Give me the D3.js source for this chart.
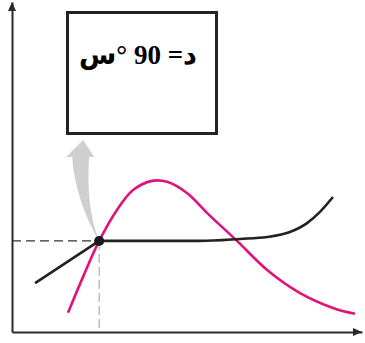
<!DOCTYPE html>
<html>
<head>
<meta charset="utf-8">
<script src="https://cdn.jsdelivr.net/npm/d3@7"></script>
<style>
  html, body { margin: 0; padding: 0; background: #fff; }
  svg { display: block; }
</style>
</head>
<body>
<svg id="chart" width="365" height="343"></svg>
<script>
// Black curve (straight rise, plateau, then upturn)
const blackX = [6.6, 24.9, 39.4, 53.7, 65.1, 72.9, 79.4, 84.3, 88.0, 91.7];
const blackY = [14.8, 27.6, 27.6, 27.6, 28.2, 28.8, 30.3, 33.0, 36.4, 40.9];

// Pink curve (rise to a peak, then decline)
const pinkX = [16.0, 20.3, 24.9, 30.0, 34.6, 40.0, 44.3, 50.0, 55.7, 64.3, 72.9, 82.3, 91.7, 98.0];
const pinkY = [5.8, 16.7, 27.6, 37.0, 43.0, 45.8, 45.5, 42.1, 36.1, 27.6, 18.8, 11.8, 7.3, 5.5];

// Marked crossing point
const crossX = 24.9;
const crossY = 27.6;

// Label shown in the box, split so Arabic letters and digits can use different fonts
const boxLabelParts = [
  { t: "د", arabic: true },
  { t: "= 90 °", arabic: false },
  { t: "س", arabic: true }
];

const svg = d3.select("#chart");
const x = d3.scaleLinear().domain([0, 100]).range([12, 362]);
const y = d3.scaleLinear().domain([0, 100]).range([332, 2]);

const axisColor = "#2a2a2a";

// Axes without ticks
svg.append("g")
  .attr("transform", `translate(0,${y(0)})`)
  .call(d3.axisBottom(x).tickValues([]).tickSizeOuter(0))
  .call(g => g.select(".domain").attr("stroke", axisColor).attr("stroke-width", 2));
svg.append("g")
  .attr("transform", `translate(${x(0)},0)`)
  .call(d3.axisLeft(y).tickValues([]).tickSizeOuter(0))
  .call(g => g.select(".domain").attr("stroke", axisColor).attr("stroke-width", 2));

// Arrowheads on axes
svg.append("path")
  .attr("d", `M${x(100)},${y(0)} l-9,-4 l0,8 z`)
  .attr("fill", axisColor);
svg.append("path")
  .attr("d", `M${x(0)},${y(100)} l-4,9 l8,0 z`)
  .attr("fill", axisColor);

// Dashed guide lines to the crossing point
svg.append("line")
  .attr("x1", x(0)).attr("x2", x(crossX))
  .attr("y1", y(crossY)).attr("y2", y(crossY))
  .attr("stroke", "#333").attr("stroke-width", 1.4)
  .attr("stroke-dasharray", "9,5");
svg.append("line")
  .attr("x1", x(crossX)).attr("x2", x(crossX))
  .attr("y1", y(crossY)).attr("y2", y(0))
  .attr("stroke", "#9a9a9a").attr("stroke-width", 1)
  .attr("stroke-dasharray", "9,4");

// Curved gray arrow from the crossing point up to the box
const cx = x(crossX), cy = y(crossY);
svg.append("path")
  .attr("d",
    `M${cx},${cy}` +
    ` C${cx - 10},${cy - 25} ${cx - 12},${cy - 55} ${cx - 10},${cy - 84}` +
    ` L${cx - 5},${cy - 84}` +
    ` L${cx - 16},${cy - 101}` +
    ` L${cx - 33},${cy - 84}` +
    ` L${cx - 27},${cy - 84}` +
    ` C${cx - 25},${cy - 55} ${cx - 15},${cy - 25} ${cx},${cy} Z`)
  .attr("fill", "#cfcfcf");

// Curves
const pinkPts = pinkX.map((v, i) => [v, pinkY[i]]);
const blackPts = blackX.map((v, i) => [v, blackY[i]]);

svg.append("path")
  .datum(pinkPts)
  .attr("fill", "none")
  .attr("stroke", "#e0137b")
  .attr("stroke-width", 2.6)
  .attr("d", d3.line().x(d => x(d[0])).y(d => y(d[1])).curve(d3.curveCatmullRom.alpha(0.5)));

svg.append("path")
  .datum(blackPts.slice(0, 2))
  .attr("fill", "none")
  .attr("stroke", "#222")
  .attr("stroke-width", 2.6)
  .attr("d", d3.line().x(d => x(d[0])).y(d => y(d[1])));
svg.append("path")
  .datum(blackPts.slice(1))
  .attr("fill", "none")
  .attr("stroke", "#222")
  .attr("stroke-width", 2.6)
  .attr("d", d3.line().x(d => x(d[0])).y(d => y(d[1])).curve(d3.curveMonotoneX));

// Crossing point marker
svg.append("circle")
  .attr("cx", cx).attr("cy", cy).attr("r", 5)
  .attr("fill", "#1a1a1a");

// Label box
const box = { x0: 67.5, y0: 12.5, x1: 216.5, y1: 133.5 };
svg.append("rect")
  .attr("x", box.x0).attr("y", box.y0)
  .attr("width", box.x1 - box.x0).attr("height", box.y1 - box.y0)
  .attr("fill", "#fff")
  .attr("stroke", "#222").attr("stroke-width", 3);

const label = svg.append("text")
  .attr("x", 138).attr("y", 64)
  .attr("direction", "rtl")
  .attr("text-anchor", "middle")
  .attr("fill", "#000");
label.selectAll("tspan")
  .data(boxLabelParts)
  .join("tspan")
  .attr("font-family", d => d.arabic ? "'DejaVu Sans', sans-serif" : "'Liberation Serif', serif")
  .attr("font-weight", "bold")
  .attr("font-size", 27)
  .text(d => d.t);
</script>
</body>
</html>
